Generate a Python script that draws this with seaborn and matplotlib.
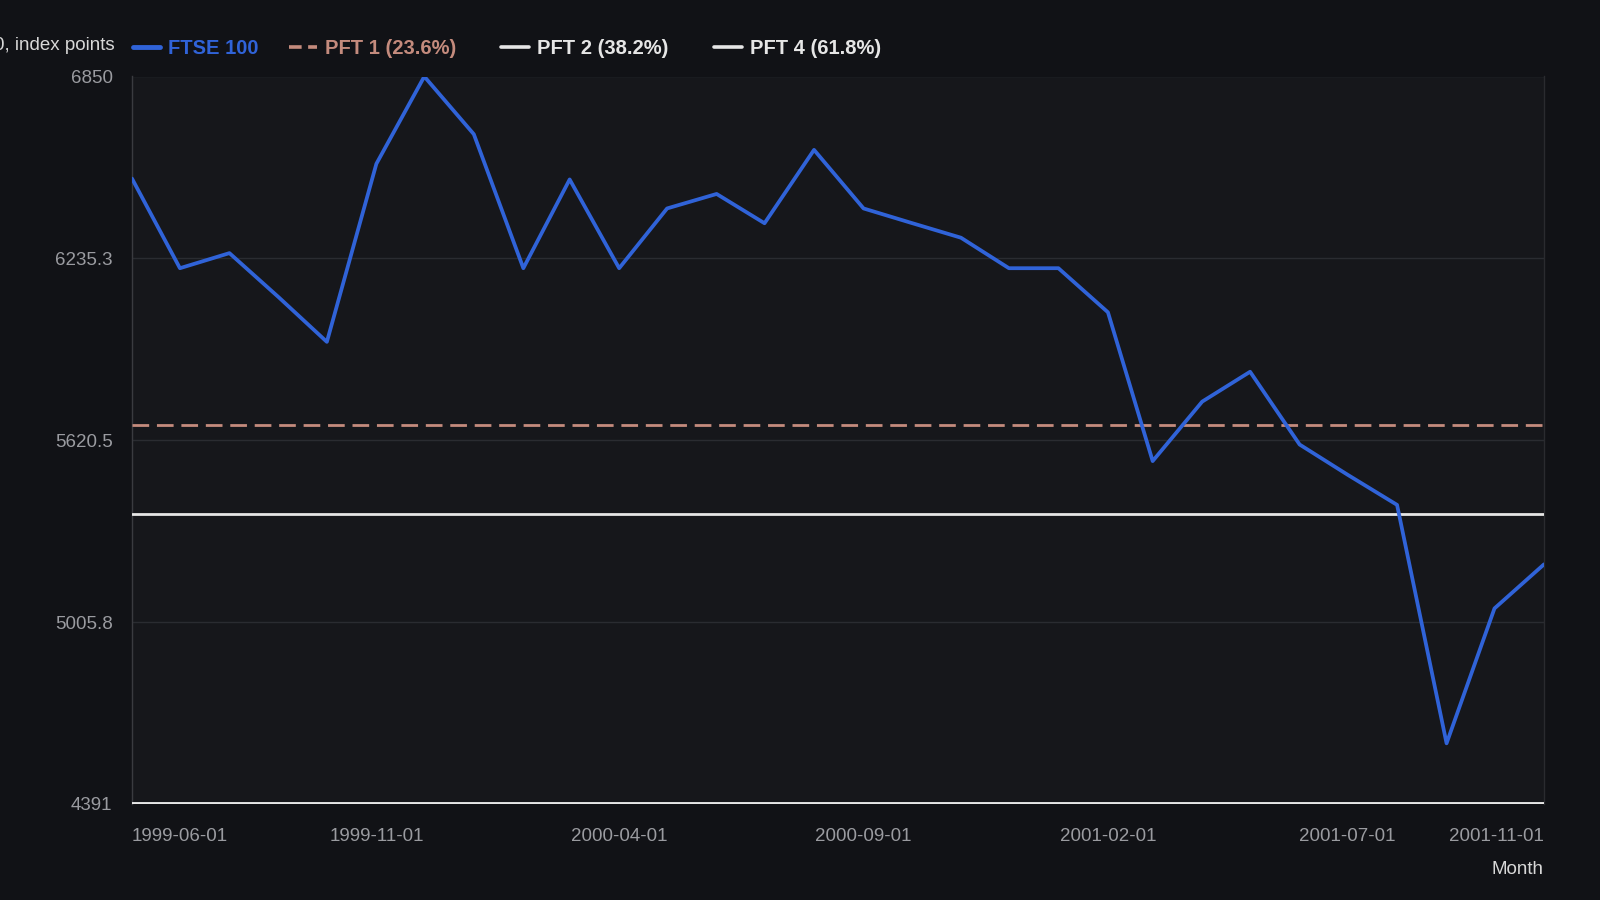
import matplotlib
matplotlib.use("Agg")
import matplotlib.pyplot as plt
from matplotlib.lines import Line2D
import seaborn as sns
import pandas as pd

months = pd.date_range("1999-06-01", "2001-11-01", freq="MS")
ftse = [6505, 6202, 6253, 6103, 5953, 6555, 6850, 6655, 6202, 6502,
        6202, 6404, 6453, 6354, 6602, 6404, 6355, 6305, 6202, 6202,
        6053, 5550, 5751, 5852, 5606, 5504, 5402, 4596, 5052, 5201]
pft_names = ["PFT 1 (23.6%)", "PFT 2 (38.2%)", "PFT 4 (61.8%)"]
pft_values = [5672, 5370, 4391]
y_ticks = [4391, 5005.8, 5620.5, 6235.3, 6850]
y_tick_labels = ["4391", "5005.8", "5620.5", "6235.3", "6850"]
x_tick_dates = ["1999-06-01", "1999-11-01", "2000-04-01", "2000-09-01",
                "2001-02-01", "2001-07-01", "2001-11-01"]

df = pd.DataFrame({"Month": months, "FTSE 100": ftse})

sns.set_theme(style="dark")
plt.rcParams["font.family"] = ["Liberation Sans", "DejaVu Sans"]

FIG_BG = "#111216"
AX_BG = "#16171b"
BLUE = "#3063d8"
SALMON = "#c48b7d"
WHITE = "#e6e6e6"
GRID = "#2a2c31"
TICK = "#9a9ba0"

fig = plt.figure(figsize=(16, 9), dpi=100, facecolor=FIG_BG)
ax = fig.add_axes([0.0825, 0.1067, 0.8825, 0.8083])
ax.set_facecolor(AX_BG)

for v in y_ticks:
    ax.axhline(v, color=GRID, lw=1.0, zorder=1)

pft_styles = [dict(color=SALMON, lw=2.0, dashes=(6, 2.8)),
              dict(color=WHITE, lw=2.0),
              dict(color=WHITE, lw=2.8)]
for val, st in zip(pft_values, pft_styles):
    ax.axhline(val, zorder=3, **st)

sns.lineplot(data=df, x="Month", y="FTSE 100", ax=ax, color=BLUE, lw=2.7,
             zorder=4, legend=False)

ax.set_xlim(months[0], months[-1])
ax.set_ylim(4391, 6850)
ax.set_yticks(y_ticks)
ax.set_yticklabels(y_tick_labels)
xt = pd.to_datetime(x_tick_dates)
ax.set_xticks(xt)
ax.set_xticklabels(x_tick_dates)
labels = ax.get_xticklabels()
labels[0].set_horizontalalignment("left")
labels[-1].set_horizontalalignment("right")

ax.tick_params(axis="y", colors=TICK, labelsize=13.5, length=0, pad=14)
ax.tick_params(axis="x", colors=TICK, labelsize=13.5, length=5, width=1,
               pad=12, direction="out")
for lab in ax.get_xticklabels() + ax.get_yticklabels():
    lab.set_color(TICK)
ax.tick_params(axis="x", color="#6a6b70")

for s in ["top", "bottom"]:
    ax.spines[s].set_visible(False)
ax.spines["left"].set_color("#3a3b40")
ax.spines["left"].set_linewidth(1.0)
ax.spines["right"].set_color("#2a2b2f")
ax.spines["right"].set_linewidth(1.0)
ax.grid(False)
ax.set_xlabel("")
ax.set_ylabel("")

fig.text(0.9645, 0.034, "Month", ha="right", va="center", color="#d8d8d8",
         fontsize=13.5)
fig.text(0.0715, 0.950, "FTSE 100, index points", ha="right", va="center",
         color="#d8d8d8", fontsize=13.5)

handles = [Line2D([0], [0], color=BLUE, lw=3.5),
           Line2D([0], [0], color=SALMON, lw=2.6, dashes=(3.5, 1.8)),
           Line2D([0], [0], color=WHITE, lw=2.6),
           Line2D([0], [0], color=WHITE, lw=2.6)]
names = ["FTSE 100"] + pft_names
text_colors = [BLUE, SALMON, WHITE, WHITE]
legend_x = [0.0829, 0.1805, 0.3131, 0.4464]
for h, n, c, lx in zip(handles, names, text_colors, legend_x):
    leg = fig.legend([h], [n], loc="center left",
                     bbox_to_anchor=(lx, 0.946), frameon=False,
                     fontsize=14.5, handlelength=1.38, handletextpad=0.4,
                     borderaxespad=0, borderpad=0)
    for t in leg.get_texts():
        t.set_color(c)
        t.set_fontweight("bold")

fig.savefig("out.png", dpi=100, facecolor=FIG_BG)
